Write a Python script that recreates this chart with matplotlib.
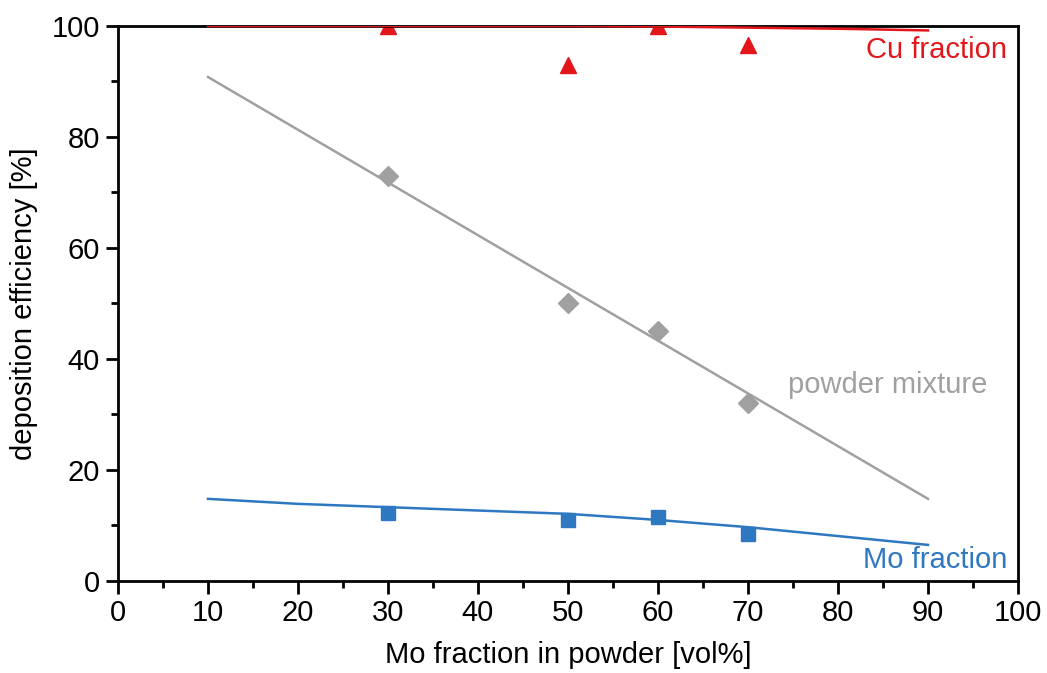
import numpy as np
import matplotlib.pyplot as plt
from matplotlib.ticker import MultipleLocator

plt.rcParams['font.family'] = ['Liberation Sans', 'DejaVu Sans']

# measured points
mo_vol = [30, 50, 60, 70]
de_cu = [100.0, 93.0, 100.0, 96.5]
de_mix = [73.0, 50.0, 45.0, 32.0]
de_mo = [12.2, 11.0, 11.5, 8.5]

# model curves
fit_x = [10, 20, 30, 40, 50, 60, 70, 80, 90]
fit_cu = [100.0, 100.0, 100.0, 100.0, 100.0, 99.9, 99.7, 99.5, 99.2]
fit_mix = [90.8, 81.3, 71.8, 62.3, 52.8, 43.3, 33.8, 24.3, 14.8]
fit_mo = [14.8, 13.9, 13.3, 12.7, 12.1, 11.0, 9.7, 8.1, 6.5]

red = '#e3161b'
blue = '#2e78c2'
grey = '#a0a0a0'

fig = plt.figure(figsize=(10.47, 6.73), dpi=100)
ax = fig.add_axes([0.1127, 0.1367, 0.8596, 0.8247])

ax.plot(fit_x, fit_cu, '-', color=red, lw=1.8, zorder=3)
ax.plot(fit_x, fit_mix, '-', color=grey, lw=1.8)
ax.plot(fit_x, fit_mo, '-', color=blue, lw=1.8)

ax.plot(mo_vol, de_cu, '^', color=red, ms=11, ls='none')
ax.plot(mo_vol, de_mix, 'D', color=grey, ms=10, ls='none')
ax.plot(mo_vol, de_mo, 's', color=blue, ms=10, ls='none')

fs = 21
ax.text(98.8, 95.7, 'Cu fraction', color=red, fontsize=fs, ha='right', va='center')
ax.text(96.6, 35.3, 'powder mixture', color=grey, fontsize=fs, ha='right', va='center')
ax.text(98.8, 3.8, 'Mo fraction', color=blue, fontsize=fs, ha='right', va='center')

ax.set_xlim(0, 100)
ax.set_ylim(0, 100)
ax.xaxis.set_major_locator(MultipleLocator(10))
ax.xaxis.set_minor_locator(MultipleLocator(5))
ax.yaxis.set_major_locator(MultipleLocator(20))
ax.yaxis.set_minor_locator(MultipleLocator(10))
ax.tick_params(which='both', direction='out', width=2, labelsize=fs, pad=4)
ax.tick_params(which='major', length=9)
ax.tick_params(which='minor', length=5)
for s in ax.spines.values():
    s.set_linewidth(2)

ax.set_xlabel('Mo fraction in powder [vol%]', fontsize=fs, labelpad=10)
ax.set_ylabel('deposition efficiency [%]', fontsize=fs, labelpad=10)

fig.savefig('out.png', dpi=100)
